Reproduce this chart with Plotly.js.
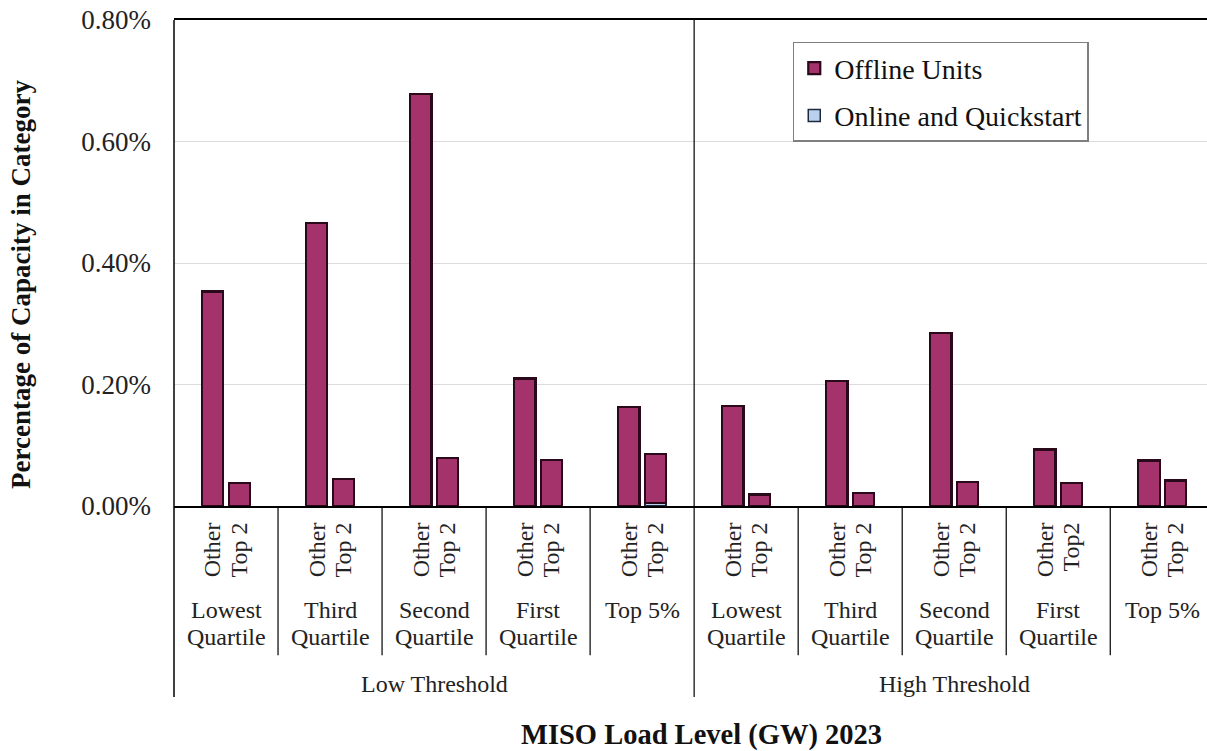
<!DOCTYPE html>
<html>
<head>
<meta charset="utf-8">
<script src="https://cdn.plot.ly/plotly-3.0.1.min.js"></script>
<style>html,body{margin:0;padding:0;background:#fff;}#chart{width:1207px;height:751px;}</style>
</head>
<body>
<div id="chart"></div>
<script>
// Data (percent of capacity)
var thresholds = ["Low Threshold", "High Threshold"];
var loadLevels = ["Lowest<br>Quartile", "Third<br>Quartile", "Second<br>Quartile", "First<br>Quartile", "Top 5%",
                  "Lowest<br>Quartile", "Third<br>Quartile", "Second<br>Quartile", "First<br>Quartile", "Top 5%"];
var barLabels = ["Other", "Top 2", "Other", "Top 2", "Other", "Top 2", "Other", "Top 2", "Other", "Top 2",
                 "Other", "Top 2", "Other", "Top 2", "Other", "Top 2", "Other", "Top2", "Other", "Top 2"];
var offlineUnits = [0.353, 0.038, 0.466, 0.044, 0.678, 0.079, 0.210, 0.076, 0.163, 0.081,
                    0.165, 0.019, 0.206, 0.021, 0.285, 0.040, 0.093, 0.038, 0.075, 0.042];
var onlineQuickstart = [0, 0, 0, 0, 0, 0, 0, 0, 0, 0.005,
                        0, 0, 0, 0, 0, 0, 0, 0, 0, 0];
var yTickVals = [0, 0.2, 0.4, 0.6, 0.8];
var yTickText = ["0.00%", "0.20%", "0.40%", "0.60%", "0.80%"];

// layout helpers (positions on a linear axis: one unit per load-level group)
var barOffset = [-0.128, 0.128];
var xpos = barLabels.map(function (_, i) { return Math.floor(i / 2) + 0.5 + barOffset[i % 2]; });

var FONT = "Liberation Serif, Times New Roman, serif";
var purple = "#a3336a";
var edge = "#2a0a1a";

var traces = [
  {
    type: "bar", name: "Online and Quickstart", x: xpos, y: onlineQuickstart, width: 0.205,
    marker: { color: "#b9d1ee", line: { color: "#1f2a3a", width: 1.5 } },
    legendrank: 2, legendgroup: "b", hoverinfo: "y"
  },
  {
    type: "bar", name: "Offline Units", x: xpos, y: offlineUnits, width: 0.205,
    marker: { color: purple, line: { color: edge, width: 2.2 } },
    legendrank: 1, legendgroup: "a", hoverinfo: "y"
  }
];

var shapes = [];
var annotations = [];
// left axis line extended down through label area
shapes.push({ type: "line", xref: "paper", yref: "paper", x0: 0, x1: 0, y0: 1, y1: -0.393, line: { color: "#000", width: 1.5 } });
// threshold divider
shapes.push({ type: "line", xref: "x", yref: "paper", x0: 5, x1: 5, y0: 1, y1: -0.393, line: { color: "#000", width: 1.2 } });
// group separators
for (var g = 1; g < 10; g++) {
  if (g === 5) continue;
  shapes.push({ type: "line", xref: "x", yref: "paper", x0: g, x1: g, y0: 0, y1: -0.307, line: { color: "#000", width: 1.2 } });
}
// group labels (one annotation per line)
var lineY = [-0.213, -0.269];
loadLevels.forEach(function (t, i) {
  t.split("<br>").forEach(function (ln, k) {
    annotations.push({ xref: "x", yref: "paper", x: i + 0.5, y: lineY[k], yanchor: "middle", xanchor: "center",
      text: ln, showarrow: false, font: { family: FONT, size: 24, color: "#222" } });
  });
});
thresholds.forEach(function (t, i) {
  annotations.push({ xref: "x", yref: "paper", x: i * 5 + 2.5, y: -0.366, yanchor: "middle", xanchor: "center",
    text: t, showarrow: false, font: { family: FONT, size: 24, color: "#222" } });
});
// axis titles
annotations.push({ xref: "paper", yref: "paper", x: 0.511, y: -0.471, xanchor: "center", yanchor: "middle",
  text: "<b>MISO Load Level (GW) 2023</b>", showarrow: false, font: { family: FONT, size: 28.5, color: "#111" } });
annotations.push({ xref: "paper", yref: "paper", x: -0.148, y: 0.455, xanchor: "center", yanchor: "middle", textangle: -90,
  text: "<b>Percentage of Capacity in Category</b>", showarrow: false, font: { family: FONT, size: 27, color: "#111" } });

var layout = {
  width: 1207, height: 751,
  margin: { l: 174, r: 0, t: 20, b: 245 },
  paper_bgcolor: "#fff", plot_bgcolor: "#fff",
  barmode: "stack",
  showlegend: true,
  legend: {
    x: 0.599, y: 0.955, xanchor: "left", yanchor: "top",
    bgcolor: "#fff", bordercolor: "#7f7f7f", borderwidth: 1.5,
    font: { family: FONT, size: 28, color: "#111" },
    traceorder: "grouped", tracegroupgap: 8, itemwidth: 30
  },
  xaxis: {
    type: "linear", range: [0, 9.93], fixedrange: true,
    tickmode: "array", tickvals: xpos, ticktext: barLabels, tickangle: -90,
    ticks: "", showgrid: false, zeroline: false,
    showline: true, mirror: true, linecolor: "#000", linewidth: 2,
    tickfont: { family: FONT, size: 24, color: "#222" },
    ticklabelstandoff: 5
  },
  yaxis: {
    range: [0, 0.8], tickmode: "array", tickvals: yTickVals, ticktext: yTickText,
    showgrid: true, gridcolor: "#dcdcdc", gridwidth: 1,
    zeroline: false, showline: false, ticks: "",
    tickfont: { family: FONT, size: 27, color: "#222" },
    ticklabelstandoff: 22
  },
  shapes: shapes,
  annotations: annotations
};

Plotly.newPlot("chart", traces, layout, { displayModeBar: false, staticPlot: true });
</script>
</body>
</html>
